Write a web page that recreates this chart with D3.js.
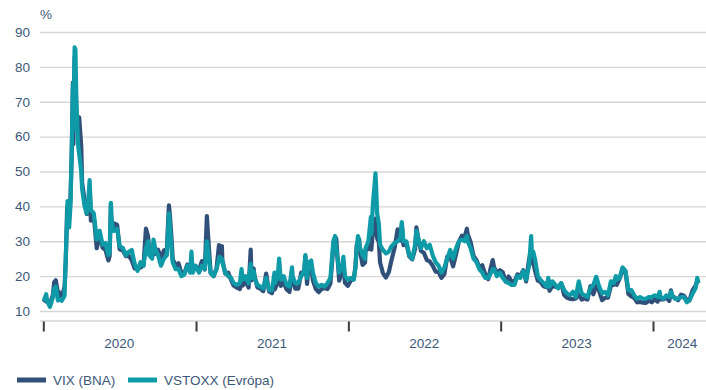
<!DOCTYPE html>
<html>
<head>
<meta charset="utf-8">
<script src="https://cdn.jsdelivr.net/npm/d3@7"></script>
<style>
  html, body { margin: 0; padding: 0; background: #ffffff; }
  svg { display: block; font-family: "Liberation Sans", Arial, sans-serif; }
</style>
</head>
<body>
<svg id="chart" width="706" height="390"></svg>
<script>
// Observation dates (closing levels), VIX (US) and VSTOXX (Europe), in %
const dates = [
  "2020-01-02","2020-01-08","2020-01-10","2020-01-17","2020-01-24","2020-01-27","2020-01-31","2020-02-05","2020-02-07","2020-02-14",
  "2020-02-21","2020-02-24","2020-02-27","2020-02-28","2020-03-03","2020-03-06","2020-03-09","2020-03-12","2020-03-13","2020-03-16",
  "2020-03-18","2020-03-20","2020-03-24","2020-03-27","2020-04-01","2020-04-03","2020-04-09","2020-04-14","2020-04-17","2020-04-21",
  "2020-04-24","2020-05-01","2020-05-08","2020-05-15","2020-05-22","2020-05-29","2020-06-05","2020-06-08","2020-06-11","2020-06-12",
  "2020-06-16","2020-06-19","2020-06-26","2020-07-02","2020-07-10","2020-07-17","2020-07-24","2020-07-31","2020-08-07","2020-08-14",
  "2020-08-21","2020-08-28","2020-09-03","2020-09-08","2020-09-11","2020-09-18","2020-09-21","2020-09-25","2020-10-02","2020-10-09",
  "2020-10-16","2020-10-23","2020-10-28","2020-10-30","2020-11-04","2020-11-06","2020-11-13","2020-11-20","2020-11-27","2020-12-04",
  "2020-12-11","2020-12-18","2020-12-21","2020-12-24","2020-12-31",
  "2021-01-08","2021-01-15","2021-01-22","2021-01-27","2021-01-29","2021-02-05","2021-02-12","2021-02-19","2021-02-25","2021-02-26",
  "2021-03-04","2021-03-05","2021-03-12","2021-03-19","2021-03-26","2021-04-01","2021-04-09","2021-04-16","2021-04-20","2021-04-23",
  "2021-04-30","2021-05-07","2021-05-12","2021-05-14","2021-05-19","2021-05-21","2021-05-28","2021-06-04","2021-06-11","2021-06-18",
  "2021-06-25","2021-07-02","2021-07-08","2021-07-09","2021-07-16","2021-07-19","2021-07-23","2021-07-30","2021-08-06","2021-08-13",
  "2021-08-19","2021-08-20","2021-08-27","2021-09-03","2021-09-10","2021-09-17","2021-09-20","2021-09-24","2021-09-28","2021-10-01",
  "2021-10-04","2021-10-08","2021-10-15","2021-10-22","2021-10-29","2021-11-05","2021-11-12","2021-11-19","2021-11-26","2021-11-30",
  "2021-12-01","2021-12-03","2021-12-10","2021-12-17","2021-12-20","2021-12-24","2021-12-31",
  "2022-01-07","2022-01-14","2022-01-18","2022-01-21","2022-01-24","2022-01-27","2022-01-28","2022-02-04","2022-02-10","2022-02-11",
  "2022-02-18","2022-02-24","2022-02-25","2022-03-01","2022-03-04","2022-03-07","2022-03-08","2022-03-11","2022-03-15","2022-03-18",
  "2022-03-25","2022-04-01","2022-04-08","2022-04-14","2022-04-22","2022-04-29","2022-05-06","2022-05-09","2022-05-13","2022-05-20",
  "2022-05-27","2022-06-03","2022-06-10","2022-06-13","2022-06-17","2022-06-24","2022-07-01","2022-07-08","2022-07-15","2022-07-22",
  "2022-07-29","2022-08-05","2022-08-12","2022-08-19","2022-08-26","2022-09-02","2022-09-09","2022-09-16","2022-09-23","2022-09-30",
  "2022-10-07","2022-10-12","2022-10-14","2022-10-21","2022-10-28","2022-11-04","2022-11-11","2022-11-18","2022-11-25","2022-12-02",
  "2022-12-09","2022-12-13","2022-12-16","2022-12-23","2022-12-30",
  "2023-01-06","2023-01-13","2023-01-20","2023-01-27","2023-02-03","2023-02-10","2023-02-17","2023-02-24","2023-03-03","2023-03-10",
  "2023-03-13","2023-03-15","2023-03-17","2023-03-20","2023-03-24","2023-03-31","2023-04-06","2023-04-14","2023-04-21","2023-04-25",
  "2023-04-28","2023-05-05","2023-05-12","2023-05-19","2023-05-26","2023-06-02","2023-06-09","2023-06-16","2023-06-23","2023-06-30",
  "2023-07-07","2023-07-14","2023-07-21","2023-07-28","2023-08-04","2023-08-11","2023-08-18","2023-08-25","2023-09-01","2023-09-08",
  "2023-09-15","2023-09-22","2023-09-29","2023-10-04","2023-10-06","2023-10-13","2023-10-20","2023-10-27","2023-11-03","2023-11-10",
  "2023-11-17","2023-11-24","2023-12-01","2023-12-08","2023-12-15","2023-12-22","2023-12-29",
  "2024-01-05","2024-01-12","2024-01-17","2024-01-19","2024-01-26","2024-02-02","2024-02-09","2024-02-13","2024-02-16","2024-02-23",
  "2024-03-01","2024-03-08","2024-03-15","2024-03-22","2024-03-28","2024-04-05","2024-04-12","2024-04-16","2024-04-19"
];

const vix = [
  12.5,13.5,12.6,12.1,14.6,18.2,18.8,15.2,15.5,13.7,
  17.1,25.0,39.2,40.1,36.8,41.9,54.5,75.5,57.8,82.7,
  76.5,66.0,61.7,65.5,57.1,46.8,41.7,37.8,38.2,45.4,
  35.9,37.2,28.0,31.9,28.2,27.5,24.5,25.8,40.8,36.1,
  33.7,35.1,34.7,27.7,27.3,25.7,25.8,24.5,22.2,22.1,
  22.5,23.0,33.6,31.5,26.9,25.8,27.8,26.4,27.6,25.0,
  27.4,27.6,40.3,38.0,29.6,24.9,23.1,23.7,20.8,20.8,
  23.3,21.6,25.2,21.5,22.8,
  21.6,24.3,21.9,37.2,33.1,20.9,20.0,22.1,28.9,28.0,
  28.6,24.7,20.7,21.0,18.9,17.3,16.7,16.3,18.7,17.3,
  18.6,16.7,27.6,18.8,22.2,20.2,16.8,16.4,15.7,20.7,
  15.6,15.1,19.0,16.2,18.5,22.5,17.2,18.2,16.2,15.5,
  21.7,18.6,16.4,16.4,21.0,20.8,25.7,17.8,23.3,21.2,
  23.0,18.8,16.3,15.4,16.3,16.5,16.3,17.9,28.6,27.2,
  31.1,30.7,18.7,21.6,22.9,18.0,17.2,
  18.8,19.2,22.8,28.9,29.9,30.5,27.7,23.2,23.9,27.4,
  27.8,30.3,27.6,33.3,32.0,36.5,35.1,30.8,29.8,23.9,
  20.8,19.6,21.2,24.4,28.2,33.4,30.2,34.8,28.9,29.4,
  25.7,24.8,27.8,34.0,31.1,27.2,26.7,24.6,24.2,23.0,
  21.3,21.2,19.5,20.6,25.6,25.5,22.8,26.3,29.9,31.6,
  31.4,33.6,32.0,29.7,25.8,24.6,22.5,23.1,20.5,19.1,
  22.8,24.6,22.6,20.9,21.7,
  21.1,18.4,19.9,18.5,18.3,20.5,20.0,21.7,18.5,24.8,
  26.5,23.7,25.5,24.1,21.7,18.7,18.4,17.1,16.8,18.8,
  15.8,17.2,17.0,16.8,18.0,14.6,13.8,13.5,13.4,13.6,
  14.8,13.3,13.6,13.3,17.1,14.8,17.3,15.7,13.1,13.8,
  13.8,17.2,17.5,18.6,17.5,19.3,21.7,21.3,14.9,14.2,
  13.8,12.5,12.6,12.4,12.3,13.0,12.5,
  13.4,12.7,14.8,13.3,13.3,13.9,12.9,15.9,14.2,13.8,
  13.1,14.7,14.4,13.1,13.0,16.0,17.3,18.4,18.7
];

const vstoxx = [
  12.8,14.8,13.0,11.2,14.0,16.5,17.0,13.0,13.5,12.9,
  14.4,26.0,36.0,41.5,34.0,40.0,55.0,75.0,62.0,85.6,
  85.0,72.0,58.0,55.0,50.0,45.0,40.0,38.0,40.0,47.5,
  39.0,38.0,30.5,33.0,29.0,29.5,26.0,27.0,41.0,37.0,
  33.0,33.0,33.5,28.5,28.0,26.0,27.0,27.5,23.5,21.5,
  24.0,23.0,28.0,30.0,26.0,25.0,30.5,28.0,26.0,23.0,
  25.0,26.0,38.0,35.0,27.0,24.0,22.0,22.0,20.0,20.5,
  23.0,21.0,27.0,21.0,23.0,
  21.0,23.0,22.0,30.0,28.0,21.0,20.0,22.0,25.0,25.5,
  25.0,24.0,21.0,20.0,19.5,18.0,17.5,18.0,22.0,19.0,
  20.0,18.0,23.5,19.5,21.5,19.5,17.5,17.0,16.5,19.5,
  16.0,16.0,21.0,18.0,20.0,25.0,19.0,20.0,17.5,17.0,
  22.5,20.0,18.0,18.0,20.0,21.5,26.0,19.5,24.0,23.0,
  24.5,21.0,18.0,17.0,17.5,17.0,18.0,19.5,30.0,31.5,
  30.0,28.0,21.0,23.0,25.5,20.0,19.0,
  19.5,19.0,22.5,28.0,31.5,30.0,28.5,26.0,25.0,28.0,
  30.0,37.0,32.0,41.0,45.0,49.5,47.0,38.0,35.0,29.0,
  27.5,26.5,27.0,28.5,29.5,30.0,31.0,35.5,30.0,30.0,
  26.0,25.0,29.0,33.0,31.0,28.0,30.0,28.0,29.0,26.0,
  24.0,23.0,21.0,22.5,25.0,27.5,25.0,28.0,30.0,30.5,
  30.0,31.5,30.0,28.0,25.0,24.0,22.0,21.0,19.5,19.5,
  21.0,22.0,22.0,20.0,21.0,
  19.5,18.5,18.0,17.5,17.5,20.0,19.5,21.5,19.0,23.0,
  28.0,31.5,26.0,27.0,25.0,20.0,19.0,18.0,17.0,19.5,
  17.0,18.5,17.5,16.5,18.0,16.0,15.0,14.5,15.5,14.0,
  18.5,15.0,14.5,14.0,16.5,17.5,19.8,17.0,15.0,15.5,
  14.5,18.5,18.0,20.0,19.0,19.5,22.5,21.5,16.0,16.0,
  14.5,13.5,14.0,13.5,13.5,14.0,14.0,
  14.5,14.0,15.5,14.0,13.5,14.5,14.0,15.5,14.5,13.5,
  13.5,14.0,14.0,12.5,13.0,15.0,16.5,19.5,18.0
];

// Axis ticks and labels
const yTicks = [10, 20, 30, 40, 50, 60, 70, 80, 90];
const yearStarts = ["2020-01-01", "2021-01-01", "2022-01-01", "2023-01-01", "2024-01-01"];
const yearLabels = ["2020", "2021", "2022", "2023", "2024"];
const yearLabelAt = ["2020-07-01", "2021-07-02", "2022-07-02", "2023-07-02", "2024-03-11"];

const seriesNames = ["VIX (BNA)", "VSTOXX (Evrópa)"];
const seriesColors = ["#30507a", "#0f9aa8"];

const parse = d3.utcParse("%Y-%m-%d");
const svg = d3.select("#chart");

const x = d3.scaleUtc()
  .domain([parse("2020-01-01"), parse("2024-04-25")])
  .range([43.3, 701]);
const y = d3.scaleLinear().domain([10, 90]).range([311, 32]);

const textColor = "#3b5878";
const gridColor = "#d6d6d6";

// horizontal grid with value labels
const yAxis = svg.append("g")
  .attr("transform", "translate(40,0)")
  .call(d3.axisLeft(y).tickValues(yTicks).tickSizeInner(-666).tickSizeOuter(0).tickPadding(10));
yAxis.select(".domain").remove();
yAxis.selectAll(".tick line").attr("stroke", gridColor).attr("stroke-width", 1.3);
yAxis.selectAll(".tick text")
  .attr("fill", textColor)
  .style("font-size", "13.5px")
  .style("font-family", "'Liberation Sans', Arial, sans-serif");

svg.append("text")
  .attr("x", 40).attr("y", 19)
  .attr("fill", textColor)
  .style("font-size", "13.5px")
  .text("%");

// time axis: baseline, year ticks and centred year labels
svg.append("line")
  .attr("x1", 40).attr("x2", 706)
  .attr("y1", 321).attr("y2", 321)
  .attr("stroke", gridColor).attr("stroke-width", 1.3);

const xAxis = svg.append("g")
  .attr("transform", "translate(0,321.5)")
  .call(d3.axisBottom(x).tickValues(yearStarts.map(parse)).tickSizeInner(10).tickSizeOuter(0).tickFormat(""));
xAxis.select(".domain").remove();
xAxis.selectAll(".tick line").attr("stroke", "#3a3a3a").attr("stroke-width", 2);

svg.append("g").selectAll("text")
  .data(yearLabels)
  .join("text")
  .attr("x", (d, i) => x(parse(yearLabelAt[i])))
  .attr("y", 348)
  .attr("text-anchor", "middle")
  .attr("fill", textColor)
  .style("font-size", "13.5px")
  .text(d => d);

// series lines
const rows = dates.map((d, i) => ({ date: parse(d), values: [vix[i], vstoxx[i]] }));
[0, 1].forEach(k => {
  const line = d3.line()
    .x(d => x(d.date))
    .y(d => y(d.values[k]));
  svg.append("path")
    .datum(rows)
    .attr("fill", "none")
    .attr("stroke", seriesColors[k])
    .attr("stroke-width", 4.2)
    .attr("stroke-linejoin", "round")
    .attr("stroke-linecap", "butt")
    .attr("d", line);
});

// legend
const legendX = [17, 128];
const legend = svg.append("g").selectAll("g")
  .data(seriesNames)
  .join("g")
  .attr("transform", (d, i) => `translate(${legendX[i]},380)`);
legend.append("line")
  .attr("x1", 0).attr("x2", 29)
  .attr("y1", 0).attr("y2", 0)
  .attr("stroke", (d, i) => seriesColors[i])
  .attr("stroke-width", 5);
legend.append("text")
  .attr("x", 36).attr("y", 5)
  .attr("fill", textColor)
  .style("font-size", "13.5px")
  .text(d => d);
</script>
</body>
</html>
